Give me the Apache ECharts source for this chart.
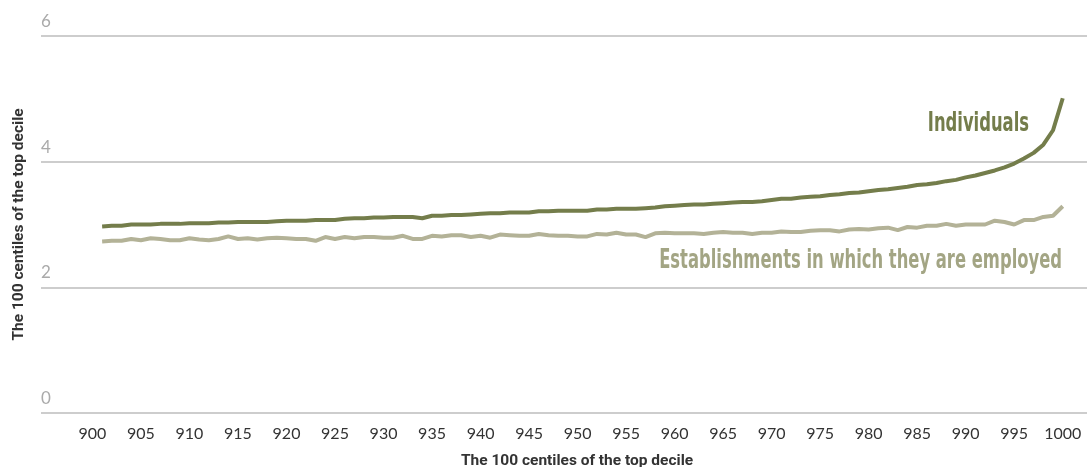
<!DOCTYPE html>
<html>
<head>
<meta charset="utf-8">
<script src="https://cdn.jsdelivr.net/npm/echarts@6/dist/echarts.min.js"></script>
<style>
html,body{margin:0;padding:0;background:#fff;}
#chart{width:1087px;height:467px;}
</style>
</head>
<body>
<div id="chart"></div>
<script>
const centiles = Array.from({length: 100}, (_, i) => 901 + i);
const xTickLabels = [900,905,910,915,920,925,930,935,940,945,950,955,960,965,970,975,980,985,990,995,1000];
const yTickLabels = [0,2,4,6];
const individuals = [
  2.97,2.98,2.98,3.00,3.00,3.00,3.01,3.01,3.01,3.02,
  3.02,3.02,3.03,3.03,3.04,3.04,3.04,3.04,3.05,3.06,
  3.06,3.06,3.07,3.07,3.07,3.09,3.10,3.10,3.11,3.11,
  3.12,3.12,3.12,3.10,3.14,3.14,3.15,3.15,3.16,3.17,
  3.18,3.18,3.19,3.19,3.19,3.21,3.21,3.22,3.22,3.22,
  3.22,3.24,3.24,3.25,3.25,3.25,3.26,3.27,3.29,3.30,
  3.31,3.32,3.32,3.33,3.34,3.35,3.36,3.36,3.37,3.39,
  3.41,3.41,3.43,3.44,3.45,3.47,3.48,3.50,3.51,3.53,
  3.55,3.56,3.58,3.60,3.63,3.64,3.66,3.69,3.71,3.75,
  3.78,3.82,3.86,3.91,3.97,4.05,4.14,4.27,4.50,5.01
];
const establishments = [
  2.73,2.74,2.74,2.77,2.75,2.78,2.77,2.75,2.75,2.78,
  2.76,2.75,2.77,2.81,2.77,2.78,2.76,2.78,2.79,2.78,
  2.77,2.77,2.74,2.80,2.77,2.80,2.78,2.80,2.80,2.79,
  2.79,2.82,2.77,2.77,2.82,2.81,2.83,2.83,2.80,2.82,
  2.79,2.84,2.83,2.82,2.82,2.85,2.83,2.82,2.82,2.81,
  2.81,2.85,2.84,2.87,2.84,2.84,2.80,2.86,2.87,2.86,
  2.86,2.86,2.85,2.87,2.88,2.87,2.87,2.85,2.87,2.87,
  2.89,2.88,2.88,2.90,2.91,2.91,2.89,2.92,2.93,2.92,
  2.94,2.95,2.91,2.96,2.95,2.98,2.98,3.01,2.98,3.00,
  3.00,3.00,3.06,3.04,3.00,3.07,3.07,3.12,3.14,3.29
];
const seriesNames = ['Individuals', 'Establishments in which they are employed'];
const axisName = 'The 100 centiles of the top decile';

const chart = echarts.init(document.getElementById('chart'), null, {renderer: 'canvas'});
const labelFont = '"Liberation Sans Narrow", "DejaVu Sans Condensed", "Roboto", sans-serif';
chart.setOption({
  animation: false,
  backgroundColor: '#fff',
  grid: {left: 41, right: 0, top: 36, bottom: 54, containLabel: false, outerBoundsMode: 'none'},
  xAxis: {
    type: 'value',
    min: 894.7,
    max: 1002.5,
    name: axisName,
    nameLocation: 'middle',
    nameGap: 40,
    nameTextStyle: {fontFamily: 'Roboto', fontWeight: 'bold', fontSize: 15.5, color: '#333', padding: [0, 0, 0, 26]},
    axisLine: {show: false},
    axisTick: {show: false},
    splitLine: {show: false},
    axisLabel: {
      customValues: xTickLabels,
      formatter: v => String(v),
      fontFamily: 'Lato',
      fontSize: 16,
      color: '#333',
      margin: 13
    }
  },
  yAxis: {
    type: 'value',
    min: 0,
    max: 6,
    interval: 2,
    name: axisName,
    nameLocation: 'middle',
    nameGap: 14,
    nameRotate: 90,
    nameTextStyle: {fontFamily: 'Roboto', fontWeight: 'bold', fontSize: 15.5, color: '#333'},
    axisLine: {show: false},
    axisTick: {show: false},
    splitLine: {lineStyle: {color: '#bdbdbd', width: 1.5}},
    axisLabel: {
      inside: true,
      margin: 0,
      align: 'left',
      verticalAlign: 'bottom',
      padding: [0, 0, 6, 0],
      fontFamily: 'Lato',
      fontSize: 17,
      color: '#aaa',
      formatter: v => yTickLabels.includes(v) ? String(v) : ''
    }
  },
  series: [
    {
      name: seriesNames[0],
      type: 'line',
      data: centiles.map((c, i) => [c, individuals[i]]),
      showSymbol: false,
      lineStyle: {color: '#747d4b', width: 4},
      z: 3
    },
    {
      name: seriesNames[1],
      type: 'line',
      data: centiles.map((c, i) => [c, establishments[i]]),
      showSymbol: false,
      lineStyle: {color: '#b3b297', width: 4},
      z: 2
    }
  ],
  graphic: [
    {
      type: 'text',
      x: 1029,
      y: 124,
      scaleX: 0.70,
      style: {text: seriesNames[0], font: 'bold 26px ' + labelFont, fill: '#747d4b', align: 'right', verticalAlign: 'middle'}
    },
    {
      type: 'text',
      x: 1062,
      y: 261,
      scaleX: 0.70,
      style: {text: seriesNames[1], font: 'bold 26px ' + labelFont, fill: '#a3a584', align: 'right', verticalAlign: 'middle'}
    }
  ]
});
</script>
</body>
</html>
